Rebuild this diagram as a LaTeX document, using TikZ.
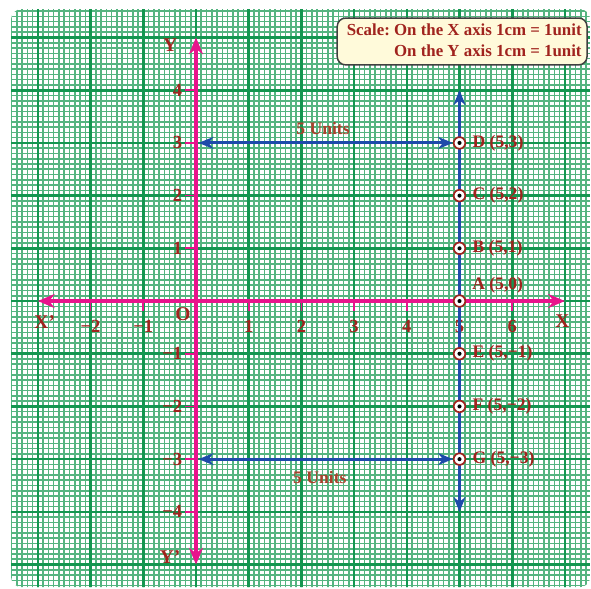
\documentclass[tikz,border=0pt]{standalone}
\usepackage{fontspec}
\setmainfont{Liberation Serif}
\usetikzlibrary{arrows.meta}
\definecolor{minorg}{RGB}{85,180,128}
\definecolor{majorg}{RGB}{20,150,80}
\definecolor{axmag}{RGB}{232,20,140}
\definecolor{lblred}{RGB}{160,35,30}
\definecolor{unitbrown}{RGB}{170,65,45}
\definecolor{arrblue}{RGB}{30,75,170}
\definecolor{boxfill}{RGB}{255,250,218}
\frenchspacing
\tikzset{
  axisline/.style={axmag, line width=2.2pt, {Stealth[length=9pt,width=7.5pt]}-{Stealth[length=9pt,width=7.5pt]}},
  tickmark/.style={axmag, line width=0.9pt},
  ticklbl/.style={text=lblred, font=\fontsize{10}{12}\selectfont\bfseries, inner sep=1pt},
  axlbl/.style={text=lblred, font=\fontsize{10.5}{12}\selectfont\bfseries, inner sep=1pt},
  blueline/.style={arrblue, line width=1.6pt, {Stealth[length=8pt,width=6.5pt]}-{Stealth[length=8pt,width=6.5pt]}},
  pt/.style={circle, draw=lblred, fill=white, line width=0.9pt, minimum size=0.22cm, inner sep=0pt,
    path picture={\fill[black] (path picture bounding box.center) circle (1.1pt);}},
  ptlbl/.style={text=lblred, font=\fontsize{9.5}{11}\selectfont\bfseries, inner sep=1pt, anchor=west},
  unitlbl/.style={text=unitbrown, font=\fontsize{9.5}{11}\selectfont\bfseries, inner sep=1pt},
  scalebox/.style={draw=black!75, line width=0.8pt, fill=boxfill, rounded corners=0.16cm,
    minimum width=4.74cm, minimum height=0.89cm, inner sep=0pt},
  scaletext/.style={text=lblred, font=\fontsize{9.1}{12}\selectfont\bfseries, inner sep=0pt, anchor=east}
}
\begin{document}
\begin{tikzpicture}[x=1cm,y=1cm]
\useasboundingbox (-3.719,-5.446) rectangle (7.495,5.712);
% graph paper
\begin{scope}
\clip[rounded corners=0.2cm] (-3.51,-5.43) rectangle (7.48,5.54);
\fill[white] (-3.6,-5.5) rectangle (7.6,5.6);
\draw[minorg, line width=0.85pt] (-3.6,-5.5) grid[step=0.1] (7.6,5.6);
\draw[majorg, line width=1.4pt] (-3.6,-5.5) grid[step=1] (7.6,5.6);
\end{scope}
% axes
\coordinate (xl) at (-3,0);
\coordinate (xr) at (7,0);
\coordinate (yt) at (0,5);
\coordinate (yb) at (0,-5);
\foreach \i in {-2,-1,1,2,3,4,5,6} {
  \draw[tickmark] (\i,0) -- (\i,-0.19);
  \node[ticklbl, anchor=base] (tx\i) at (\i,-0.6) {\ifnum\i<0 −\the\numexpr-\i\relax\else\i\fi};
}
\foreach \i in {-4,-3,-2,-1,1,2,3,4} {
  \draw[tickmark] (0,\i) -- (-0.2,\i);
  \node[ticklbl, anchor=east] (ty\i) at (-0.22,\i) {\ifnum\i<0 −\the\numexpr-\i\relax\else\i\fi};
}
\draw[axisline] (xl) -- (xr);
\draw[axisline] (yb) -- (yt);
\node[axlbl] (Xp) at (-2.87,-0.4) {X'};
\node[axlbl] (X) at (6.95,-0.38) {X};
\node[axlbl] (Y) at (-0.49,4.86) {Y};
\node[axlbl] (Yp) at (-0.49,-4.86) {Y'};
\node[axlbl] (O) at (-0.25,-0.24) {O};
% blue lines
\coordinate (vt) at (5,4);
\coordinate (vb) at (5,-4);
\coordinate (h3) at (0.05,3);
\coordinate (hm3) at (0.05,-3);
\draw[blueline] (vb) -- (vt);
% points
\node[pt] (A) at (5,0) {};
\node[pt] (B) at (5,1) {};
\node[pt] (C) at (5,2) {};
\node[pt] (D) at (5,3) {};
\node[pt] (E) at (5,-1) {};
\node[pt] (F) at (5,-2) {};
\node[pt] (G) at (5,-3) {};
\draw[blueline] (h3) -- (D.west);
\draw[blueline] (hm3) -- (G.west);
\node[unitlbl] (u1) at (2.41,3.28) {5 Units};
\node[unitlbl] (u2) at (2.35,-3.34) {5 Units};
\node[ptlbl] (Al) at (5.2,0.3) {A (5,0)};
\node[ptlbl] (Bl) at ([xshift=0.08cm]B.east) {B (5,1)};
\node[ptlbl] (Cl) at ([xshift=0.08cm]C.east) {C (5,2)};
\node[ptlbl] (Dl) at ([xshift=0.08cm]D.east) {D (5,3)};
\node[ptlbl] (El) at ([xshift=0.08cm]E.east) {E (5,−1)};
\node[ptlbl] (Fl) at ([xshift=0.08cm]F.east) {F (5,−2)};
\node[ptlbl] (Gl) at ([xshift=0.08cm]G.east) {G (5,−3)};
% scale box
\node[scalebox] (sc) at (5.05,4.925) {};
\node[scaletext] (sct) at ([xshift=-0.11cm]sc.east) {\begin{tabular}{@{}r@{}}Scale: On the X axis 1cm = 1unit\\[-0.5pt]On the Y axis 1cm = 1unit\end{tabular}};
\end{tikzpicture}
\end{document}
